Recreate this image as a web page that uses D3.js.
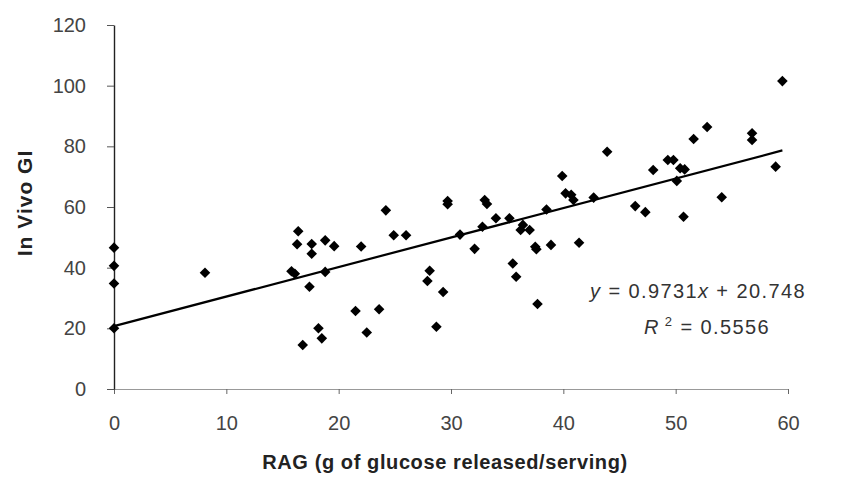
<!DOCTYPE html>
<html>
<head>
<meta charset="utf-8">
<script src="https://cdn.jsdelivr.net/npm/d3@7"></script>
<style>
  body { margin: 0; background: #fff; }
  svg { display: block; font-family: "Liberation Sans", Arial, sans-serif; }
</style>
</head>
<body>
<script>
// RAG (x) and in vivo GI (y)
const ragValues = [0, 0, 0, 0, 8.1, 15.8, 16.1, 16.3, 16.4, 17.6, 17.6, 17.4, 18.8, 19.6, 18.8,
  16.8, 18.2, 18.5, 21.5, 22.0, 22.5, 23.6, 24.2, 24.9, 26.0, 28.1, 27.9, 29.3, 28.7,
  29.7, 29.7, 30.8, 32.1, 32.8, 33.0, 33.2, 34.0, 35.2, 35.5, 35.8, 36.2, 36.4, 37.0,
  37.5, 37.6, 37.7, 38.5, 38.9, 41.4, 39.9, 40.2, 40.7, 40.9, 42.7, 43.9, 46.4, 47.3,
  48.0, 49.3, 49.8, 50.1, 50.4, 50.8, 50.7, 51.6, 52.8, 54.1, 56.8, 56.8, 58.9, 59.5]
const giValues = [46.6, 40.6, 34.8, 20.0, 38.3, 38.8, 38.0, 47.7, 52.0, 47.8, 44.6, 33.7, 49.0, 47.1, 38.6,
  14.5, 20.0, 16.7, 25.7, 47.0, 18.6, 26.3, 58.9, 50.7, 50.7, 39.0, 35.6, 32.0, 20.5,
  62.0, 60.9, 50.9, 46.2, 53.5, 62.3, 61.0, 56.3, 56.3, 41.4, 37.0, 52.4, 54.1, 52.4,
  46.9, 46.1, 28.0, 59.2, 47.5, 48.2, 70.2, 64.5, 64.0, 62.3, 63.1, 78.2, 60.3, 58.3,
  72.2, 75.5, 75.5, 68.6, 72.8, 72.4, 56.8, 82.4, 86.4, 63.2, 84.3, 82.1, 73.3, 101.5]

const xTicks = [0, 10, 20, 30, 40, 50, 60]
const yTicks = [0, 20, 40, 60, 80, 100, 120]
const slope = 0.9731
const intercept = 20.748
const rSquared = "0.5556"

const width = 853
const height = 477
const margin = { top: 25, right: 65, bottom: 88, left: 114 }

const svg = d3.select("body").append("svg")
  .attr("width", width)
  .attr("height", height)

const x = d3.scaleLinear([0, 60], [margin.left, width - margin.right])
const y = d3.scaleLinear([0, 120], [height - margin.bottom, margin.top])

// x axis (light grey baseline, ticks pointing down)
const xAxis = svg.append("g")
  .attr("transform", `translate(0,${y(0)})`)
  .call(d3.axisBottom(x).tickValues(xTicks).tickSizeInner(5).tickSizeOuter(0).tickPadding(22))
xAxis.select(".domain").attr("stroke", "#999").attr("stroke-width", 1.2)
xAxis.selectAll(".tick line").attr("stroke", "#666")
xAxis.selectAll("text")
  .attr("fill", "#444")
  .style("font-size", "20px")

// y axis
const yAxis = svg.append("g")
  .attr("transform", `translate(${x(0)},0)`)
  .call(d3.axisLeft(y).tickValues(yTicks).tickSizeInner(7).tickSizeOuter(0).tickPadding(21))
yAxis.select(".domain").attr("stroke", "#222").attr("stroke-width", 1.4)
yAxis.selectAll(".tick line").attr("stroke", "#555")
yAxis.selectAll("text")
  .attr("fill", "#444")
  .style("font-size", "20px")

// trend line y = slope*x + intercept
const xMax = d3.max(ragValues)
svg.append("line")
  .attr("x1", x(0))
  .attr("y1", y(intercept))
  .attr("x2", x(xMax))
  .attr("y2", y(slope * xMax + intercept))
  .attr("stroke", "#000")
  .attr("stroke-width", 2.2)

// diamond markers
const marker = d3.symbol().type(d3.symbolSquare).size(56)
svg.append("g")
  .selectAll("path")
  .data(ragValues.map((v, i) => [v, giValues[i]]))
  .join("path")
    .attr("transform", d => `translate(${x(d[0])},${y(d[1])}) rotate(45)`)
    .attr("d", marker)
    .attr("fill", "#000")

// equation text
const eq = svg.append("text")
  .attr("x", 698)
  .attr("y", 298)
  .attr("text-anchor", "middle")
  .attr("fill", "#333")
  .style("font-size", "20px")
  .style("letter-spacing", "1.4px")
eq.append("tspan").attr("font-style", "italic").text("y")
eq.append("tspan").text(" = 0.9731")
eq.append("tspan").attr("font-style", "italic").text("x")
eq.append("tspan").text(` + ${intercept}`)

const r2 = svg.append("text")
  .attr("x", 707)
  .attr("y", 334)
  .attr("text-anchor", "middle")
  .attr("fill", "#333")
  .style("font-size", "20px")
  .style("letter-spacing", "1.4px")
r2.append("tspan").attr("font-style", "italic").text("R")
r2.append("tspan").attr("dy", -8).style("font-size", "13px").text(" 2")
r2.append("tspan").attr("dy", 8).text(` = ${rSquared}`)

// axis titles
svg.append("text")
  .attr("x", 445)
  .attr("y", 469)
  .attr("text-anchor", "middle")
  .attr("fill", "#222")
  .style("font-size", "20px")
  .style("font-weight", "bold")
  .style("letter-spacing", "0.6px")
  .text("RAG (g of glucose released/serving)")

svg.append("text")
  .attr("transform", "translate(32,203) rotate(-90)")
  .attr("text-anchor", "middle")
  .attr("fill", "#222")
  .style("font-size", "21px")
  .style("font-weight", "bold")
  .style("letter-spacing", "1px")
  .text("In Vivo GI")
</script>
</body>
</html>
